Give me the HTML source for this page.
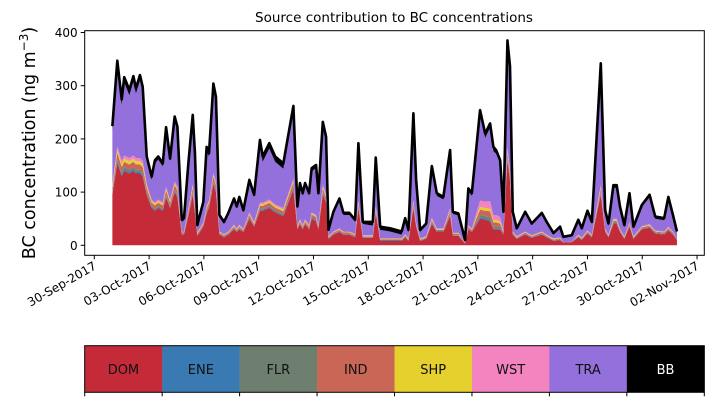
<!DOCTYPE html>
<html><head><meta charset="utf-8"><style>
html,body{margin:0;padding:0;background:#fff;}
svg{display:block;font-family:"DejaVu Sans","Liberation Sans",sans-serif;}
</style></head><body>
<svg id="chart" width="714" height="402" viewBox="0 0 714 402" xmlns="http://www.w3.org/2000/svg">
<text x="394" y="22" font-size="13.5" text-anchor="middle">Source contribution to BC concentrations</text>
<text transform="translate(35,143) rotate(-90)" font-size="17.5" text-anchor="middle">BC concentration (ng m<tspan dy="-7" font-size="12">−3</tspan><tspan dy="7">)</tspan></text>
<g id="plot"></g>
<g id="axes"></g>
<g id="legend"></g>
</svg>
<script>
const times=[0.99,1.26,1.5,1.64,1.92,2.14,2.28,2.5,2.65,2.87,3.14,3.32,3.5,3.75,3.93,4.15,4.4,4.55,4.79,4.91,5.15,5.39,5.51,5.64,5.97,6.15,6.28,6.52,6.66,6.85,7.1,7.34,7.65,7.8,7.94,8.16,8.49,8.75,9.07,9.22,9.58,9.9,10.35,10.9,11.12,11.26,11.41,11.54,11.76,11.9,12.14,12.27,12.51,12.69,12.82,13.09,13.42,13.64,13.96,14.28,14.46,14.7,15.25,15.41,15.65,16.19,16.83,17.02,17.2,17.47,17.62,17.84,18.17,18.48,18.75,19.11,19.48,19.63,19.93,20.3,20.48,20.67,21.12,21.4,21.67,21.85,22,22.22,22.4,22.62,22.76,22.91,23.13,23.59,23.95,24.5,24.77,25.14,25.5,25.68,26.14,26.5,26.69,27,27.24,27.73,27.97,28.15,28.42,28.6,28.78,29.02,29.3,29.52,29.98,30.4,30.71,31.2,31.43,31.68,31.9];
const total=[224,347,274,316,292,318,295,320,298,167,129,160,167,154,222,163,242,223,48,51,154,245,173,38,82,185,173,304,279,57,44,61,88,73,91,66,123,95,198,167,192,167,154,262,73,117,98,117,98,145,151,98,232,204,29,63,88,61,61,48,192,44,44,165,35,32,26,51,29,248,123,29,41,149,98,91,179,63,60,10,107,98,254,210,229,185,179,160,63,385,336,63,32,63,41,61,44,23,35,16,19,48,32,65,44,342,66,41,113,113,73,38,98,35,76,95,54,51,91,57,26];
const dom=[95,155,130,140,135,140,135,135,130,95,70,65,70,65,90,70,100,90,20,20,55,95,60,18,35,60,70,115,100,20,15,20,30,25,30,25,50,35,65,65,70,62,55,105,30,40,30,40,30,50,45,30,95,80,12,20,25,20,20,15,70,14,14,60,8,8,8,15,8,70,35,8,12,40,25,25,55,18,18,3,30,25,50,48,45,30,30,30,20,160,120,20,12,20,14,20,15,8,10,5,6,15,10,22,15,95,25,15,40,40,25,12,35,12,30,33,22,20,28,20,10];
const ind=[8,12,10,10,10,10,10,10,10,8,6,6,6,6,8,6,8,8,2,2,5,8,5,2,3,5,6,9,8,2,2,2,3,2,3,2,4,3,5,5,6,5,5,8,3,3,3,3,3,4,4,3,7,6,1,2,2,2,2,2,5,1,1,4,1,1,1,2,1,6,3,1,1,3,2,2,5,2,2,1,3,2,10,10,12,8,8,6,2,10,8,2,1,2,1,2,1,1,1,1,1,1,1,2,1,6,2,1,3,3,2,1,3,1,2,2,2,2,2,2,1];
const ene=[2,3,3,3,3,3,3,3,3,2,2,2,2,2,2,2,2,2,1,1,2,2,2,1,1,2,2,2,2,1,1,1,1,1,1,1,2,1,2,2,2,2,2,2,1,1,1,1,1,2,2,1,2,2,1,1,1,1,1,1,2,1,1,2,1,1,1,1,1,2,1,1,1,2,1,1,2,1,1,0,1,1,3,3,3,2,2,2,1,2,2,1,1,1,1,1,1,1,1,0,0,1,1,1,1,2,1,1,1,1,1,1,1,1,1,1,1,1,1,1,0];
const flr=[3,4,4,4,4,4,4,4,4,3,2,2,2,2,3,2,3,3,1,1,2,3,2,1,1,2,2,3,3,1,1,1,1,1,1,1,2,1,2,2,2,2,2,3,1,1,1,1,1,2,2,1,3,2,1,1,1,1,1,1,2,1,1,2,1,1,1,1,1,2,1,1,1,2,1,1,2,1,1,0,1,1,4,4,4,3,3,3,1,3,3,1,1,1,1,1,1,1,1,0,0,1,1,1,1,3,1,1,2,2,1,1,1,1,1,1,1,1,1,1,0];
const shp=[3,6,6,6,6,6,6,6,6,4,3,3,3,3,3,3,3,3,1,1,2,3,2,1,1,2,2,3,3,1,1,1,2,1,2,1,2,2,3,3,3,3,3,3,1,2,1,2,1,2,2,1,3,3,1,1,1,1,1,1,2,1,1,2,1,1,1,1,1,2,1,1,1,2,1,1,2,1,1,0,1,1,5,5,5,4,4,4,1,3,3,1,1,1,1,1,1,1,1,0,0,1,1,1,1,3,1,1,2,2,1,1,1,1,1,1,1,1,1,1,0];
const wst=[3,6,6,6,6,6,6,6,6,4,3,3,3,3,4,3,4,4,1,1,3,4,3,1,2,3,3,4,4,1,1,1,2,1,2,1,2,2,3,3,3,3,3,4,1,2,2,2,2,2,2,2,4,3,1,1,2,1,1,1,3,1,1,3,1,1,1,1,1,3,2,1,1,3,2,2,4,1,1,0,2,2,12,12,14,10,10,8,2,6,5,1,1,1,1,1,1,1,1,0,0,1,1,1,1,5,1,1,2,2,1,1,2,1,1,2,1,1,2,1,0];
const bb=[8,10,10,10,10,10,10,10,10,8,6,6,6,6,7,6,7,7,4,4,6,7,6,4,5,6,6,8,8,4,4,4,5,4,5,4,6,5,10,10,10,10,10,8,4,5,5,5,5,6,6,5,7,6,3,4,4,4,4,4,6,4,7,6,6,6,6,5,5,7,5,4,4,6,5,5,6,4,4,2,5,5,8,8,8,8,7,7,4,8,8,4,3,4,3,4,3,3,3,2,2,3,3,4,3,8,4,3,5,5,4,3,5,3,4,5,4,4,5,4,3];
const yTicks=[0,100,200,300,400];
const xTickLabels=["30-Sep-2017","03-Oct-2017","06-Oct-2017","09-Oct-2017","12-Oct-2017","15-Oct-2017","18-Oct-2017","21-Oct-2017","24-Oct-2017","27-Oct-2017","30-Oct-2017","02-Nov-2017"];
const xTickDays=[0,3,6,9,12,15,18,21,24,27,30,33];
const sourceNames=["DOM","ENE","FLR","IND","SHP","WST","TRA","BB"];
const sourceColors=["#c52a38","#3a7ab3","#6e7f70","#c96656","#e6d02e","#f384bf","#9370db","#000000"];

const NS="http://www.w3.org/2000/svg";
const X0=84.7,X1=704.3,Y0=30.7,Y1=255.3;
const xs=d=>94.3+d*18.265;
const ys=v=>245.3-v*0.532;
function mk(tag,attrs,parent){const e=document.createElementNS(NS,tag);for(const k in attrs)e.setAttribute(k,attrs[k]);parent.appendChild(e);return e;}
const plot=document.getElementById('plot'),axes=document.getElementById('axes'),legend=document.getElementById('legend');

const n=times.length;
const tra=times.map((t,i)=>Math.max(0,total[i]-bb[i]-dom[i]-ene[i]-flr[i]-ind[i]-shp[i]-wst[i]));
const layers=[dom,ene,flr,ind,shp,wst,tra,bb];
const layerNames=["dom","ene","flr","ind","shp","wst","tra","bb"];
let base=times.map(()=>0);
layers.forEach((arr,li)=>{
  const top=base.map((b,i)=>b+(arr[i]||0));
  let d="M"+times.map((t,i)=>xs(t).toFixed(2)+","+ys(top[i]).toFixed(2)).join("L");
  for(let i=n-1;i>=0;i--)d+="L"+xs(times[i]).toFixed(2)+","+ys(base[i]).toFixed(2);
  d+="Z";
  const p=mk('path',{d:d,fill:sourceColors[li],stroke:'none'},plot);
  
  
  base=top;
});
const tl=mk('path',{d:"M"+times.map((t,i)=>xs(t).toFixed(2)+","+ys(base[i]).toFixed(2)).join("L"),fill:'none',stroke:'#000','stroke-width':2.6,'stroke-linejoin':'round'},plot);



const fr=mk('rect',{x:X0,y:Y0,width:X1-X0,height:Y1-Y0,fill:'none',stroke:'#000','stroke-width':1},axes);


yTicks.forEach(v=>{
  const y=ys(v);
  const l=mk('line',{x1:X0-4,x2:X0,y1:y,y2:y,stroke:'#000','stroke-width':1},axes);
  
  
  const t=mk('text',{x:X0-7,y:y+4.5,'font-size':12,'text-anchor':'end'},axes);
  t.textContent=v;
  
  
});
xTickDays.forEach((d,i)=>{
  const x=xs(d);
  const l=mk('line',{x1:x,x2:x,y1:Y1,y2:Y1+4,stroke:'#000','stroke-width':1},axes);
  
  
  const t=mk('text',{transform:`translate(${x+3},${Y1+13}) rotate(-30)`,'font-size':12,'text-anchor':'end'},axes);
  t.textContent=xTickLabels[i];
  
  
});
const LX=84.7,LW=(704.3-84.7)/8,LY=345.7,LH=46.6;
sourceNames.forEach((nm,i)=>{
  const r=mk('rect',{x:LX+i*LW,y:LY,width:LW+0.3,height:LH,fill:sourceColors[i]},legend);
  
  
  const t=mk('text',{x:LX+(i+0.5)*LW,y:LY+LH/2+5,'font-size':13,'text-anchor':'middle',fill:nm==="BB"?'#fff':'#111'},legend);
  t.textContent=nm;
  
  
});
for(let i=0;i<=8;i++){
  const x=LX+i*LW;
  const l=mk('line',{x1:x,x2:x,y1:LY+LH,y2:LY+LH+4,stroke:'#000','stroke-width':1},legend);
  
  
}
const lf=mk('rect',{x:LX,y:LY,width:LW*8,height:LH,fill:'none',stroke:'#000','stroke-width':1},legend);


</script>
</body></html>
